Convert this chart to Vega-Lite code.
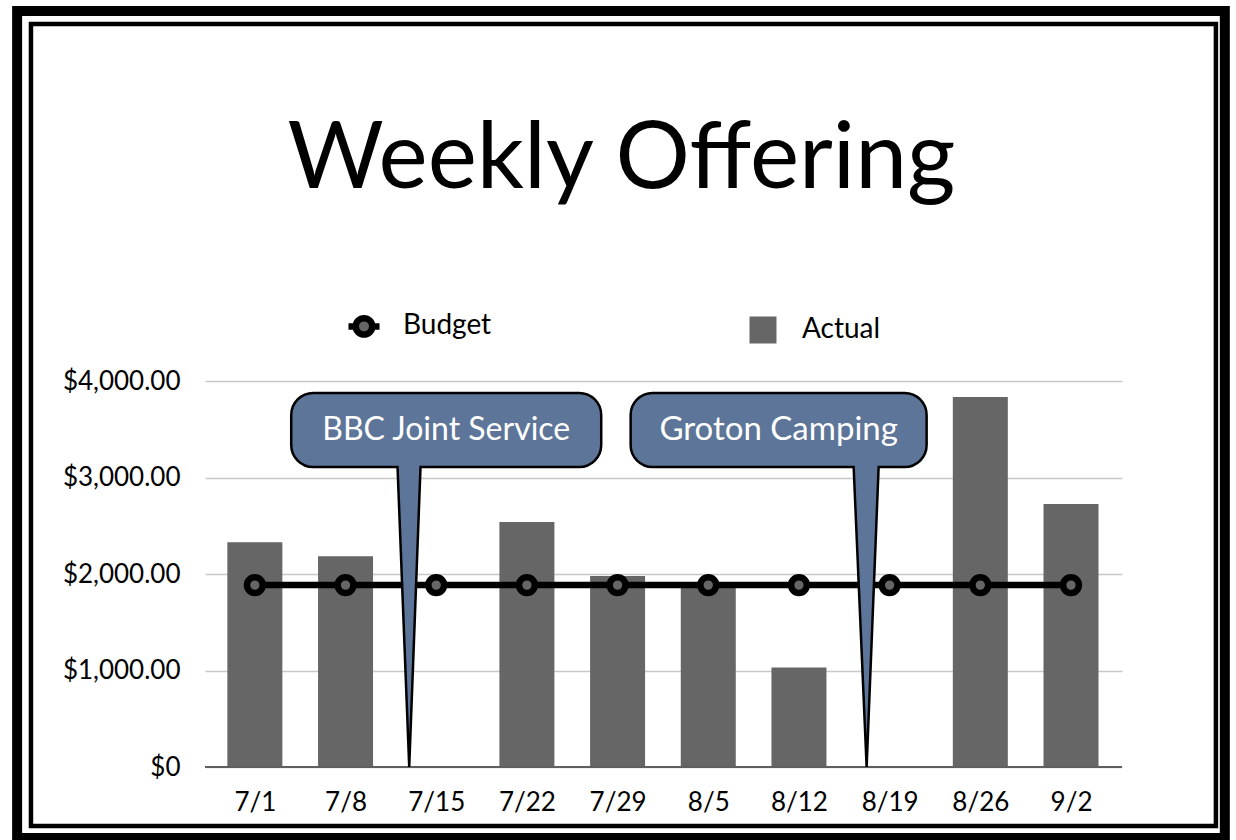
{
  "$schema": "https://vega.github.io/schema/vega-lite/v6.json",
  "width": 917,
  "height": 386,
  "autosize": {"type": "none"},
  "padding": {"left": 205, "top": 381, "right": 114, "bottom": 73},
  "background": "white",
  "title": {"text": "Weekly Offering", "font": "Lato", "fontSize": 93, "fontWeight": "normal", "color": "black", "anchor": "middle", "baseline": "alphabetic", "offset": -275, "dx": -42},
  "config": {"view": {"stroke": null}, "font": "Lato"},
  "datasets": {
    "weekly": [
      {"week": "2012-07-01", "budget": 1885, "actual": 2330},
      {"week": "2012-07-08", "budget": 1885, "actual": 2185},
      {"week": "2012-07-15", "budget": 1885, "actual": 0, "note": "BBC Joint Service"},
      {"week": "2012-07-22", "budget": 1885, "actual": 2540},
      {"week": "2012-07-29", "budget": 1885, "actual": 1980},
      {"week": "2012-08-05", "budget": 1885, "actual": 1880},
      {"week": "2012-08-12", "budget": 1885, "actual": 1030},
      {"week": "2012-08-19", "budget": 1885, "actual": 0, "note": "Groton Camping"},
      {"week": "2012-08-26", "budget": 1885, "actual": 3835},
      {"week": "2012-09-02", "budget": 1885, "actual": 2725}
    ]
  },
  "layer": [
    {
      "data": {"values": [{}]},
      "mark": {"type": "rect", "fill": "transparent", "stroke": "black", "strokeWidth": 10},
      "encoding": {
        "x": {"datum": {"year": 2012, "month": 6, "date": 12, "hours": 15, "minutes": 34, "utc": true}, "type": "temporal",
              "scale": {"type": "utc", "domain": [{"year": 2012, "month": 6, "date": 27, "hours": 12, "minutes": 54, "utc": true}, {"year": 2012, "month": 9, "date": 5, "hours": 13, "minutes": 13, "utc": true}]}},
        "x2": {"datum": {"year": 2012, "month": 9, "date": 13, "hours": 20, "minutes": 57, "utc": true}},
        "y": {"datum": 7834.2, "type": "quantitative", "scale": {"domain": [0, 4000], "nice": false}},
        "y2": {"datum": -735.75}
      }
    },
    {
      "data": {"values": [{}]},
      "mark": {"type": "rect", "fill": "transparent", "stroke": "black", "strokeWidth": 4.5},
      "encoding": {
        "x": {"datum": {"year": 2012, "month": 6, "date": 13, "hours": 17, "minutes": 13, "utc": true}, "type": "temporal",
              "scale": {"type": "utc", "domain": [{"year": 2012, "month": 6, "date": 27, "hours": 12, "minutes": 54, "utc": true}, {"year": 2012, "month": 9, "date": 5, "hours": 13, "minutes": 13, "utc": true}]}},
        "x2": {"datum": {"year": 2012, "month": 9, "date": 13, "hours": 4, "minutes": 28, "utc": true}},
        "y": {"datum": 7699.5, "type": "quantitative", "scale": {"domain": [0, 4000], "nice": false}},
        "y2": {"datum": -611.4}
      }
    },
    {
      "data": {"name": "weekly"},
      "mark": {"type": "bar", "width": 55, "color": "#666666"},
      "encoding": {
        "x": {"field": "week", "type": "temporal",
              "scale": {"type": "utc", "domain": [{"year": 2012, "month": 6, "date": 27, "hours": 12, "minutes": 54, "utc": true}, {"year": 2012, "month": 9, "date": 5, "hours": 13, "minutes": 13, "utc": true}]},
              "axis": {"title": null, "grid": false, "domain": false, "ticks": true, "tickColor": "transparent", "labelPadding": 17,
                       "labelFont": "Lato", "labelFontSize": 26, "labelColor": "black", "labelFlush": false, "labelOverlap": false,
                       "labelExpr": "utcFormat(datum.value, '%-m/%-d')",
                       "values": [
                         {"year": 2012, "month": 7, "date": 1, "utc": true},
                         {"year": 2012, "month": 7, "date": 8, "utc": true},
                         {"year": 2012, "month": 7, "date": 15, "utc": true},
                         {"year": 2012, "month": 7, "date": 22, "utc": true},
                         {"year": 2012, "month": 7, "date": 29, "utc": true},
                         {"year": 2012, "month": 8, "date": 5, "utc": true},
                         {"year": 2012, "month": 8, "date": 12, "utc": true},
                         {"year": 2012, "month": 8, "date": 19, "utc": true},
                         {"year": 2012, "month": 8, "date": 26, "utc": true},
                         {"year": 2012, "month": 9, "date": 2, "utc": true}
                       ]}},
        "y": {"field": "actual", "type": "quantitative",
              "scale": {"domain": [0, 4000], "nice": false},
              "axis": {"title": null, "values": [0, 1000, 2000, 3000, 4000], "grid": true, "gridColor": "#c8c8c8", "gridWidth": 1.5,
                       "domain": false, "ticks": true, "tickColor": "transparent",
                       "labelPadding": 20, "labelFont": "Lato", "labelFontSize": 26, "labelColor": "black",
                       "labelExpr": "datum.value == 0 ? '$0' : format(datum.value, '$,.2f')"}},
        "fill": {"datum": "Actual", "type": "nominal",
                 "scale": {"domain": ["Budget", "Actual"], "range": ["#666666", "#666666"]},
                 "legend": {"title": null, "orient": "none", "legendX": 145, "legendY": -69, "direction": "horizontal",
                            "padding": 0, "symbolSize": 729, "symbolType": "square", "labelFont": "Lato", "labelFontSize": 28,
                            "labelColor": "black", "labelOffset": 25, "columnPadding": 257,
                            "encode": {"symbols": {"update": {
                              "shape": {"signal": "datum.value === 'Budget' ? 'M-1.15,0L-0.61,0M0.61,0L1.15,0M0.61,0A0.61,0.61,0,1,1,-0.61,0A0.61,0.61,0,1,1,0.61,0Z' : 'square'"},
                              "stroke": {"signal": "datum.value === 'Budget' ? 'black' : 'transparent'"},
                              "strokeWidth": {"signal": "datum.value === 'Budget' ? 6.5 : 0"},
                              "fill": {"value": "#666666"},
                              "opacity": {"value": 1}
                            }}}}}
      }
    },
    {
      "data": {"values": [{}]},
      "mark": {"type": "rule", "color": "#5f5f5f", "strokeWidth": 2},
      "encoding": {
        "y": {"datum": 0, "type": "quantitative", "scale": {"domain": [0, 4000], "nice": false}}
      }
    },
    {
      "data": {"name": "weekly"},
      "mark": {"type": "line", "color": "black", "strokeWidth": 6.5},
      "encoding": {
        "x": {"field": "week", "type": "temporal",
              "scale": {"type": "utc", "domain": [{"year": 2012, "month": 6, "date": 27, "hours": 12, "minutes": 54, "utc": true}, {"year": 2012, "month": 9, "date": 5, "hours": 13, "minutes": 13, "utc": true}]}},
        "y": {"field": "budget", "type": "quantitative", "scale": {"domain": [0, 4000], "nice": false}}
      }
    },
    {
      "data": {"name": "weekly"},
      "mark": {"type": "point", "filled": true, "stroke": "black", "strokeWidth": 6.5, "size": 250, "opacity": 1},
      "encoding": {
        "x": {"field": "week", "type": "temporal",
              "scale": {"type": "utc", "domain": [{"year": 2012, "month": 6, "date": 27, "hours": 12, "minutes": 54, "utc": true}, {"year": 2012, "month": 9, "date": 5, "hours": 13, "minutes": 13, "utc": true}]}},
        "y": {"field": "budget", "type": "quantitative", "scale": {"domain": [0, 4000], "nice": false}},
        "fill": {"datum": "Budget", "type": "nominal", "scale": {"domain": ["Budget", "Actual"], "range": ["#666666", "#666666"]}}
      }
    },
    {
      "data": {"name": "weekly"},
      "transform": [{"filter": "datum.note"}],
      "mark": {"type": "point", "filled": true, "fill": "#5d7598", "stroke": "black", "strokeWidth": 2.5, "size": 4, "opacity": 1},
      "encoding": {
        "x": {"field": "week", "type": "temporal",
              "scale": {"type": "utc", "domain": [{"year": 2012, "month": 6, "date": 27, "hours": 12, "minutes": 54, "utc": true}, {"year": 2012, "month": 9, "date": 5, "hours": 13, "minutes": 13, "utc": true}]}},
        "y": {"field": "actual", "type": "quantitative", "scale": {"domain": [0, 4000], "nice": false}},
        "shape": {"field": "note", "type": "nominal", "legend": null,
                  "scale": {"domain": ["BBC Joint Service", "Groton Camping"],
                            "range": ["M-123,-374L143,-374A22,22,0,0,1,165,-352L165,-322A22,22,0,0,1,143,-300L-15.7,-300L-27,0L-38.7,-300L-123,-300A22,22,0,0,1,-145,-322L-145,-352A22,22,0,0,1,-123,-374Z",
                                      "M-237,-374L15,-374A22,22,0,0,1,37,-352L37,-322A22,22,0,0,1,15,-300L-11,-300L-23,0L-36,-300L-237,-300A22,22,0,0,1,-259,-322L-259,-352A22,22,0,0,1,-237,-374Z"]}}
      }
    },
    {
      "data": {"name": "weekly"},
      "transform": [{"filter": "datum.note === 'BBC Joint Service'"}],
      "mark": {"type": "text", "font": "Lato", "fontSize": 32, "color": "white", "align": "center", "baseline": "middle", "dx": 10, "dy": -337},
      "encoding": {
        "x": {"field": "week", "type": "temporal",
              "scale": {"type": "utc", "domain": [{"year": 2012, "month": 6, "date": 27, "hours": 12, "minutes": 54, "utc": true}, {"year": 2012, "month": 9, "date": 5, "hours": 13, "minutes": 13, "utc": true}]}},
        "y": {"field": "actual", "type": "quantitative", "scale": {"domain": [0, 4000], "nice": false}},
        "text": {"field": "note"}
      }
    },
    {
      "data": {"name": "weekly"},
      "transform": [{"filter": "datum.note === 'Groton Camping'"}],
      "mark": {"type": "text", "font": "Lato", "fontSize": 33, "color": "white", "align": "center", "baseline": "middle", "dx": -111, "dy": -337},
      "encoding": {
        "x": {"field": "week", "type": "temporal",
              "scale": {"type": "utc", "domain": [{"year": 2012, "month": 6, "date": 27, "hours": 12, "minutes": 54, "utc": true}, {"year": 2012, "month": 9, "date": 5, "hours": 13, "minutes": 13, "utc": true}]}},
        "y": {"field": "actual", "type": "quantitative", "scale": {"domain": [0, 4000], "nice": false}},
        "text": {"field": "note"}
      }
    }
  ]
}
